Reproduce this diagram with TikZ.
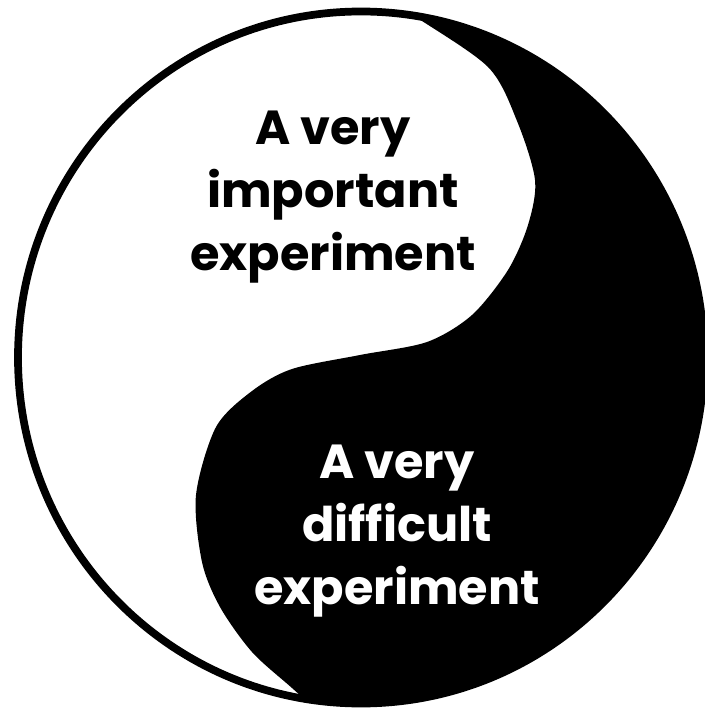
\documentclass[tikz,border=0pt]{standalone}
\usepackage{fontspec}
\setmainfont{Poppins}
\usepackage{tikz}

\begin{document}
\begin{tikzpicture}[x=0.1mm, y=-0.1mm,
  yytext/.style={align=center, font=\fontsize{13.6}{17.9}\selectfont\bfseries}]
  \useasboundingbox (0,0) rectangle (705,710);

  % white disc
  \fill[white] (361,357.5) ellipse [x radius=343, y radius=346];

  % black half, cut by the s-curve
  \begin{scope}
    \clip (361,357.5) ellipse [x radius=343, y radius=346];
    \fill[black] plot[smooth] coordinates {(375,-12) (413,15) (488,67) (517,121)
      (535,180) (528,225) (508,270) (472,315) (427,342) (360,355) (292,369)
      (252,391) (216,427) (196,495) (202,562) (220,607) (252,652) (292,688) (330,722)}
      -- (760,730) -- (760,-30) -- cycle;
  \end{scope}

  % rim
  \draw[line width=2.2pt] (361,357.5) ellipse [x radius=343, y radius=346];

  % labels
  \node[yytext, text=black] (important) at (333,197) {A very\\important\\experiment};
  \node[yytext, text=white] (difficult) at (397,531) {A very\\difficult\\experiment};
\end{tikzpicture}
\end{document}
